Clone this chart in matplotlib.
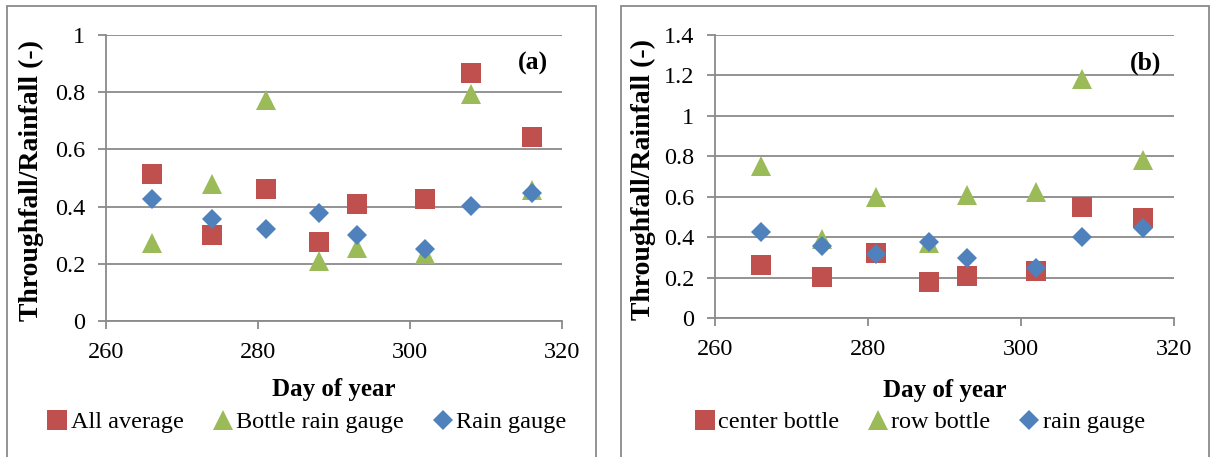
import numpy as np
import matplotlib.pyplot as plt
from matplotlib import patches
from matplotlib.ticker import FuncFormatter

plt.rcParams['font.family'] = ['Liberation Serif', 'DejaVu Serif']

# day of year for every sampling event
days = [266, 274, 281, 288, 293, 302, 308, 316]

# panel (a)
all_average = [0.513, 0.299, 0.460, 0.275, 0.410, 0.428, 0.868, 0.642]
bottle_gauge = [0.272, 0.478, 0.771, 0.211, 0.256, 0.235, 0.795, 0.457]
rain_gauge = [0.426, 0.355, 0.321, 0.376, 0.301, 0.251, 0.401, 0.446]

# panel (b)
center_bottle = [0.264, 0.203, 0.320, 0.180, 0.208, 0.231, 0.550, 0.495]
row_bottle = [0.754, 0.390, 0.598, 0.370, 0.608, 0.624, 1.184, 0.784]
rain_gauge_b = [0.424, 0.355, 0.319, 0.375, 0.299, 0.248, 0.400, 0.444]

red, green, blue = '#C0504D', '#9BBB59', '#4F81BD'
grey = '#8a8a8a'

fig = plt.figure(figsize=(12.1, 4.57), dpi=100)
W, H = 1210., 457.

def px_axes(l, t, r, b):
    return fig.add_axes([l/W, 1-b/H, (r-l)/W, (b-t)/H])

ax1 = px_axes(106, 35, 562, 321)
ax2 = px_axes(715, 35, 1174, 318)

def style(ax, ymax, lab, xl, yl):
    ax.set_xlim(260, 320)
    ax.set_ylim(0, ymax)
    ax.set_xticks(np.arange(260, 321, 20))
    ax.set_yticks(np.arange(0, ymax+0.01, 0.2))
    ax.yaxis.set_major_formatter(FuncFormatter(lambda v, p: f'{v:g}'))
    ax.grid(axis='y', color=grey, lw=1.3)
    ax.set_axisbelow(True)
    for s in ['top', 'right']:
        ax.spines[s].set_visible(False)
    for s in ['left', 'bottom']:
        ax.spines[s].set_color(grey)
        ax.spines[s].set_linewidth(1.3)
    ax.tick_params(direction='out', length=5.5, width=1.3, color=grey,
                   labelsize=17.5, pad=9.5)
    ax.set_xlabel('Day of year', fontsize=18, fontweight='bold')
    ax.xaxis.set_label_coords(0.5, xl)
    ax.xaxis.label.set_va('center')
    ax.set_ylabel('Throughfall/Rainfall (-)', fontsize=20, fontweight='bold')
    ax.yaxis.set_label_coords(yl, 0.49)
    ax.yaxis.label.set_va('center')
    ax.text(0.937, 0.90, lab, transform=ax.transAxes, fontsize=18.5,
            fontweight='bold', ha='center', va='center')

kw = dict(ls='none', mew=0)
ax1.plot(days, all_average, 's', color=red, ms=14.5, label='All average', **kw)
ax1.plot(days, bottle_gauge, '^', color=green, ms=14.5, label='Bottle rain gauge', **kw)
ax1.plot(days, rain_gauge, 'D', color=blue, ms=10.5, label='Rain gauge', **kw)
style(ax1, 1.0, '(a)', -0.24, -0.163)

ax2.plot(days, center_bottle, 's', color=red, ms=14.5, label='center bottle', **kw)
ax2.plot(days, row_bottle, '^', color=green, ms=14.5, label='row bottle', **kw)
ax2.plot(days, rain_gauge_b, 'D', color=blue, ms=10.5, label='rain gauge', **kw)
style(ax2, 1.4, '(b)', -0.255, -0.155)

for ax, cx in [(ax1, 307), (ax2, 920)]:
    h, l = ax.get_legend_handles_labels()
    fig.legend(h, l, loc='center', bbox_to_anchor=(cx/W, 1-422/H), ncol=3,
               frameon=False, fontsize=17.5, handlelength=0.8,
               handletextpad=0.15, columnspacing=1.2, borderpad=0)

# panel borders
for l, r in [(7, 596), (621, 1209)]:
    fig.add_artist(patches.Rectangle((l/W, -0.1), (r-l)/W, 1.1-6/H,
                                     transform=fig.transFigure, fill=False,
                                     ec=grey, lw=1.3))

fig.savefig('out.png', dpi=100)
